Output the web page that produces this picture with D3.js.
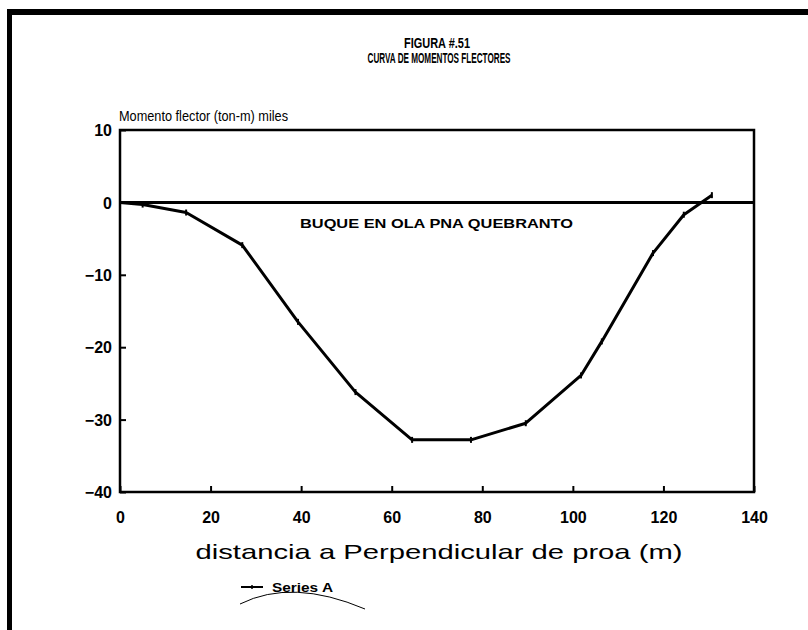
<!DOCTYPE html>
<html><head><meta charset="utf-8">
<script src="https://cdn.jsdelivr.net/npm/d3@7"></script>
<style>
html,body{margin:0;padding:0;background:#fff;}
text{font-family:"Liberation Sans",Arial,sans-serif;fill:#000;}
</style></head>
<body>
<svg id="c" width="808" height="630"></svg>
<script>
// Data
const distances = [0, 5, 14.6, 27, 39.3, 52, 64.5, 77.5, 89.6, 101.8, 106.4, 117.7, 124.5, 130.7];
const moments   = [0, -0.3, -1.4, -5.9, -16.5, -26.2, -32.8, -32.8, -30.5, -23.9, -19.2, -7.0, -1.7, 1.0];
const xTicks = [0, 20, 40, 60, 80, 100, 120, 140];
const yTicks = [10, 0, -10, -20, -30, -40];
const titleLines = ["FIGURA #.51", "CURVA DE MOMENTOS FLECTORES"];
const yLabel = "Momento flector (ton-m) miles";
const xLabel = "distancia a Perpendicular de proa (m)";
const note = "BUQUE EN OLA PNA QUEBRANTO";
const seriesName = "Series A";

const svg = d3.select("#c");
const L = 120, R = 754, T = 130, B = 492;
const x = d3.scaleLinear().domain([0, 140]).range([L, R]);
const y = d3.scaleLinear().domain([-40, 10]).range([B, T]);

// page frame
svg.append("line").attr("x1", 7).attr("x2", 808).attr("y1", 12).attr("y2", 12)
  .attr("stroke", "#000").attr("stroke-width", 6);
svg.append("line").attr("x1", 9.5).attr("x2", 9.5).attr("y1", 9).attr("y2", 630)
  .attr("stroke", "#000").attr("stroke-width", 5);

// titles
svg.append("text").attr("x", 437).attr("y", 48).attr("text-anchor", "middle")
  .attr("font-size", 14).attr("font-weight", 900)
  .attr("textLength", 66).attr("lengthAdjust", "spacingAndGlyphs").text(titleLines[0]);
svg.append("text").attr("x", 439).attr("y", 63).attr("text-anchor", "middle")
  .attr("font-size", 14).attr("font-weight", 900)
  .attr("textLength", 143).attr("lengthAdjust", "spacingAndGlyphs").text(titleLines[1]);

// y label
svg.append("text").attr("x", 119).attr("y", 121).attr("font-size", 15)
  .attr("textLength", 169).attr("lengthAdjust", "spacingAndGlyphs").text(yLabel);

// plot box
svg.append("rect").attr("x", L).attr("y", T).attr("width", R - L).attr("height", B - T)
  .attr("fill", "none").attr("stroke", "#000").attr("stroke-width", 2.5);

// axes (inward ticks)
const gx = svg.append("g").attr("transform", `translate(0,${B})`)
  .call(d3.axisBottom(x).tickValues(xTicks).tickSize(-6).tickPadding(26).tickFormat(d3.format("d")));
const gy = svg.append("g").attr("transform", `translate(${L},0)`)
  .call(d3.axisLeft(y).tickValues(yTicks).tickSize(-6).tickPadding(8).tickFormat(d3.format("d")));
[gx, gy].forEach(g => {
  g.select(".domain").remove();
  g.selectAll(".tick line").attr("stroke", "#000").attr("stroke-width", 2);
  g.selectAll(".tick text").attr("font-size", 16).attr("font-weight", 700)
    .style("font-family", '"Liberation Sans",Arial,sans-serif');
});
gx.selectAll(".tick text").attr("dy", "0.3em");
gy.selectAll(".tick text").attr("dy", "0.35em");

// zero line
svg.append("line").attr("x1", L).attr("x2", R).attr("y1", y(0)).attr("y2", y(0))
  .attr("stroke", "#000").attr("stroke-width", 3);

// annotation
svg.append("text").attr("x", 300).attr("y", 228).attr("font-size", 13).attr("font-weight", 900)
  .attr("textLength", 273).attr("lengthAdjust", "spacingAndGlyphs").text(note);

// series line
const pts = distances.map((d, i) => [d, moments[i]]);
svg.append("path").datum(pts)
  .attr("d", d3.line().x(d => x(d[0])).y(d => y(d[1])))
  .attr("fill", "none").attr("stroke", "#000").attr("stroke-width", 3).attr("stroke-linejoin", "round");
svg.append("g").selectAll("line").data(pts.slice(1)).join("line")
  .attr("x1", d => x(d[0])).attr("x2", d => x(d[0]))
  .attr("y1", d => y(d[1]) - 3).attr("y2", d => y(d[1]) + 3)
  .attr("stroke", "#000").attr("stroke-width", 2);

// x axis title
svg.append("text").attr("x", 439).attr("y", 559).attr("text-anchor", "middle")
  .attr("font-size", 21).attr("textLength", 487).attr("lengthAdjust", "spacingAndGlyphs").text(xLabel);

// legend
svg.append("line").attr("x1", 241).attr("x2", 263).attr("y1", 587).attr("y2", 587)
  .attr("stroke", "#000").attr("stroke-width", 2);
svg.append("line").attr("x1", 252).attr("x2", 252).attr("y1", 585).attr("y2", 589)
  .attr("stroke", "#000").attr("stroke-width", 1.5);
svg.append("text").attr("x", 272).attr("y", 592).attr("font-size", 13).attr("font-weight", 900)
  .attr("textLength", 61).attr("lengthAdjust", "spacingAndGlyphs").text(seriesName);

// stray arc on the scan
svg.append("path").attr("d", "M240,604 Q292,578 365,609")
  .attr("fill", "none").attr("stroke", "#000").attr("stroke-width", 1);
</script>
</body></html>
